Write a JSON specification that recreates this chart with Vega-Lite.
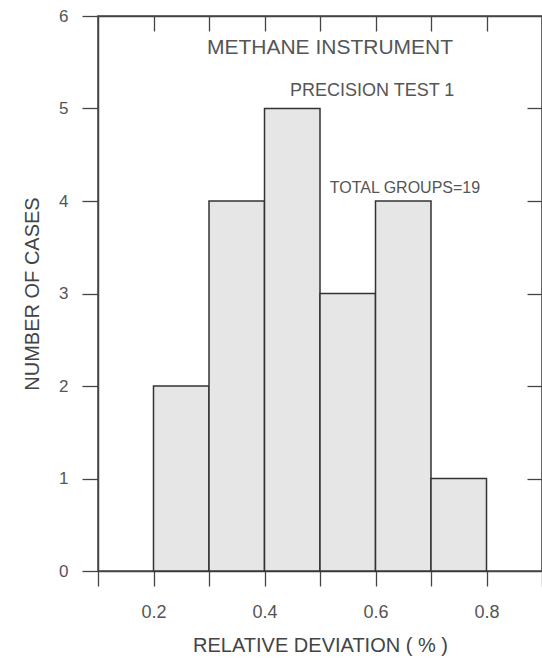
{
  "$schema": "https://vega.github.io/schema/vega-lite/v6.json",
  "width": 444,
  "height": 555,
  "autosize": "none",
  "padding": {"left": 98, "top": 16, "right": 0, "bottom": 88},
  "background": "white",
  "config": {
    "font": "Liberation Sans",
    "view": {"stroke": "#444", "strokeWidth": 1.5},
    "axis": {"grid": false, "domainColor": "#444", "domainWidth": 1.5, "tickColor": "#444", "tickWidth": 1.3, "labelColor": "#555", "labelFontSize": 18, "titleFontSize": 20, "titleColor": "#444", "titleFontWeight": "normal"}
  },
  "resolve": {"axis": {"x": "independent", "y": "independent"}, "scale": {"x": "shared", "y": "shared"}},
  "layer": [
    {
      "data": {"values": [
        {"bin_start": 0.2, "bin_end": 0.3, "count": 2},
        {"bin_start": 0.3, "bin_end": 0.4, "count": 4},
        {"bin_start": 0.4, "bin_end": 0.5, "count": 5},
        {"bin_start": 0.5, "bin_end": 0.6, "count": 3},
        {"bin_start": 0.6, "bin_end": 0.7, "count": 4},
        {"bin_start": 0.7, "bin_end": 0.8, "count": 1}
      ]},
      "mark": {"type": "rect", "fill": "#e6e6e6", "stroke": "#333", "strokeWidth": 1.5},
      "encoding": {
        "x": {"field": "bin_start", "type": "quantitative",
              "scale": {"domain": [0.1, 0.9], "nice": false, "zero": false},
              "axis": {"orient": "bottom", "values": [0.1, 0.2, 0.3, 0.4, 0.5, 0.6, 0.7, 0.8, 0.9], "format": ".1f",
                       "labelExpr": "indexof(['0.2','0.4','0.6','0.8'], datum.label) >= 0 ? datum.label : ''",
                       "tickSize": 15, "labelPadding": 17, "labelFontSize": 18,
                       "title": "RELATIVE DEVIATION ( % )", "titleFontSize": 20, "titlePadding": 14}},
        "x2": {"field": "bin_end"},
        "y": {"field": "count", "type": "quantitative",
              "scale": {"domain": [0, 6], "nice": false},
              "axis": {"orient": "left", "values": [0, 1, 2, 3, 4, 5, 6], "tickSize": 16, "labelPadding": 14, "labelFontSize": 17,
                       "title": "NUMBER OF CASES", "titleFontSize": 20, "titlePadding": 16}}
      }
    },
    {
      "data": {"values": [
        {"x": 0.518, "y": 5.65, "label": "METHANE INSTRUMENT", "size": 21},
        {"x": 0.594, "y": 5.19, "label": "PRECISION TEST 1", "size": 18},
        {"x": 0.653, "y": 4.14, "label": "TOTAL GROUPS=19", "size": 16}
      ]},
      "mark": {"type": "text", "color": "#555", "align": "center", "baseline": "middle"},
      "encoding": {
        "x": {"field": "x", "type": "quantitative",
              "axis": {"orient": "top", "values": [0.2, 0.3, 0.4, 0.5, 0.6, 0.7, 0.8], "tickSize": -15, "labels": false, "title": null}},
        "y": {"field": "y", "type": "quantitative",
              "axis": {"orient": "right", "values": [1, 2, 3, 4, 5], "tickSize": -15, "labels": false, "title": null}},
        "text": {"field": "label"},
        "size": {"field": "size", "type": "quantitative", "scale": null, "legend": null}
      }
    }
  ]
}
